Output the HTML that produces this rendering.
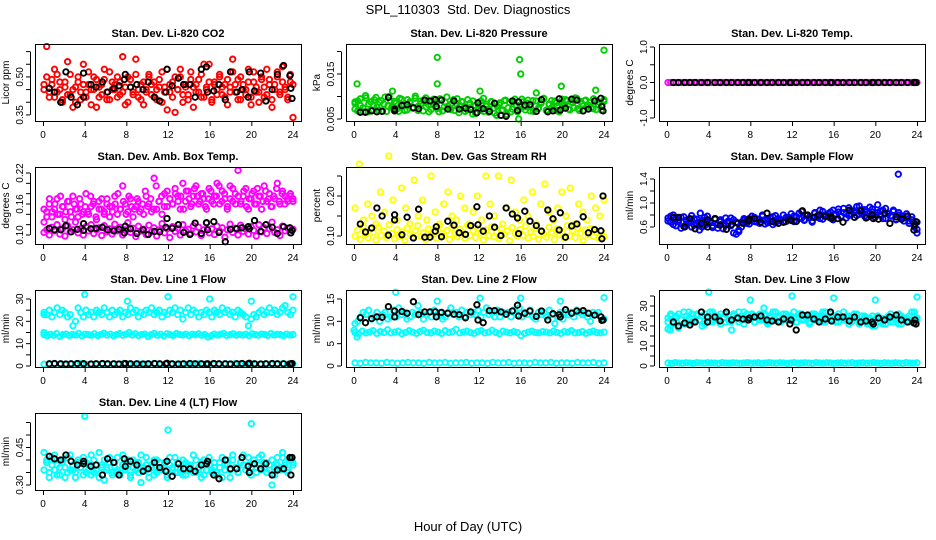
<!DOCTYPE html>
<html><head><meta charset="utf-8"><style>
html,body{margin:0;padding:0;background:#fff;}
svg{display:block;font-family:"Liberation Sans",Arial,sans-serif;}
</style></head><body>
<svg id="chart" width="936" height="540" viewBox="0 0 936 540" xmlns="http://www.w3.org/2000/svg">
<text x="468" y="14" text-anchor="middle" font-size="13">SPL_110303&#160; Std. Dev. Diagnostics</text>
<text x="468" y="531" text-anchor="middle" font-size="13">Hour of Day (UTC)</text>
</svg>
<script>
const BLACK_HOURS=[0.6,1.1,1.7,2.2,2.7,3.3,3.9,3.9,4.6,5.1,5.7,6.2,6.8,7.3,7.8,7.9,8.4,9.0,9.6,10.1,10.7,11.2,11.8,11.9,12.4,13.0,13.5,14.1,14.6,15.2,15.7,15.8,16.4,16.9,17.5,18.0,18.6,19.1,19.7,19.8,20.3,20.9,21.4,22.0,22.5,23.1,23.7,23.8,23.9];
const X_TICKS=[0,4,8,12,16,20,24];

const co2RedA=[0.47,0.62,0.44,0.49,0.42,0.51,0.45,0.40,0.48,0.56,0.43,0.38,0.46,0.50,0.41,0.47,0.44,0.52,0.39,0.45,0.49,0.42,0.47,0.53,0.44,0.41,0.48,0.45,0.50,0.43,0.58,0.46,0.40,0.49,0.44,0.51,0.42,0.47,0.39,0.45,0.50,0.43,0.48,0.41,0.46,0.52,0.44,0.37,0.47,0.42,0.50,0.45,0.53,0.40,0.46,0.43,0.49,0.38,0.47,0.44,0.51,0.42,0.46,0.55,0.41,0.48,0.45,0.50,0.43,0.47,0.39,0.46,0.52,0.44,0.49,0.41,0.47,0.45,0.53,0.42,0.48,0.44,0.40,0.50,0.46,0.43,0.49,0.41,0.47,0.52,0.44,0.54,0.45,0.42,0.48,0.34];
const co2RedB=[0.45,0.50,0.42,0.47,0.53,0.44,0.48,0.41,0.46,0.43,0.51,0.45,0.40,0.48,0.44,0.55,0.42,0.47,0.45,0.50,0.38,0.46,0.43,0.49,0.41,0.52,0.45,0.47,0.42,0.48,0.44,0.39,0.50,0.46,0.43,0.57,0.45,0.41,0.48,0.44,0.51,0.47,0.42,0.45,0.49,0.40,0.46,0.53,0.44,0.48,0.36,0.45,0.50,0.43,0.47,0.41,0.52,0.46,0.44,0.49,0.42,0.55,0.45,0.48,0.40,0.47,0.43,0.51,0.46,0.42,0.49,0.44,0.57,0.47,0.41,0.50,0.45,0.43,0.48,0.39,0.52,0.46,0.44,0.49,0.42,0.53,0.47,0.38,0.45,0.50,0.43,0.48,0.46,0.41,0.51,0.47];
const co2Black=[0.455,0.44,0.40,0.52,0.42,0.39,0.42,0.515,0.47,0.46,0.48,0.44,0.455,0.465,0.49,0.51,0.46,0.47,0.45,0.48,0.42,0.405,0.44,0.53,0.465,0.495,0.47,0.47,0.42,0.53,0.54,0.44,0.445,0.47,0.41,0.52,0.44,0.45,0.42,0.52,0.445,0.515,0.405,0.45,0.51,0.545,0.505,0.455,0.415];

const presGreenA=[0.0085,0.0068,0.0095,0.0075,0.0102,0.0066,0.0088,0.0079,0.0098,0.0070,0.0091,0.0083,0.0067,0.0100,0.0076,0.0089,0.0072,0.0096,0.0081,0.0069,0.0093,0.0086,0.0074,0.0101,0.0078,0.0090,0.0068,0.0097,0.0082,0.0071,0.0094,0.0087,0.0066,0.0092,0.0077,0.0099,0.0073,0.0085,0.0069,0.0095,0.0080,0.0088,0.0067,0.0093,0.0075,0.0090,0.0062,0.0084,0.0071,0.0096,0.0078,0.0065,0.0089,0.0074,0.0058,0.0082,0.0069,0.0091,0.0060,0.0086,0.0072,0.0094,0.0066,0.0080,0.0088,0.0070,0.0092,0.0077,0.0067,0.0090,0.0074,0.0085,0.0096,0.0069,0.0083,0.0091,0.0072,0.0087,0.0066,0.0094,0.0079,0.0090,0.0070,0.0086,0.0097,0.0073,0.0089,0.0068,0.0092,0.0081,0.0075,0.0095,0.0071,0.0088,0.0078,0.0093];
const presGreenB=[0.0072,0.0090,0.0080,0.0066,0.0097,0.0083,0.0070,0.0093,0.0076,0.0087,0.0068,0.0099,0.0079,0.0091,0.0073,0.0085,0.0067,0.0094,0.0081,0.0070,0.0088,0.0075,0.0096,0.0069,0.0084,0.0092,0.0077,0.0066,0.0090,0.0082,0.0073,0.0095,0.0068,0.0087,0.0079,0.0071,0.0093,0.0084,0.0064,0.0089,0.0076,0.0070,0.0085,0.0061,0.0080,0.0074,0.0090,0.0067,0.0083,0.0072,0.0088,0.0063,0.0078,0.0086,0.0070,0.0092,0.0075,0.0066,0.0089,0.0081,0.0072,0.0094,0.0077,0.0085,0.0068,0.0091,0.0079,0.0073,0.0087,0.0095,0.0070,0.0083,0.0076,0.0090,0.0068,0.0086,0.0080,0.0093,0.0072,0.0088,0.0075,0.0096,0.0069,0.0084,0.0091,0.0077,0.0087,0.0073,0.0092,0.0082,0.0070,0.0089];
const presExtraHours=[0.1,0.3,3.7,8.0,8.0,12.1,15.8,15.9,16.0,17.5,19.9,23.2,24.0];
const presExtraValues=[0.0088,0.0128,0.0112,0.0187,0.0128,0.0112,0.0050,0.0182,0.0150,0.0108,0.0123,0.0114,0.0203];
const presBlack=[0.0065,0.0065,0.0068,0.0066,0.0067,0.0098,0.0072,0.0068,0.0080,0.0082,0.0075,0.0073,0.0092,0.0090,0.0093,0.0078,0.0092,0.0072,0.0090,0.0072,0.0074,0.0071,0.0064,0.0086,0.0073,0.0067,0.0085,0.0058,0.0056,0.0090,0.0069,0.0088,0.0081,0.0082,0.0067,0.0093,0.0066,0.0068,0.0095,0.0070,0.0074,0.0094,0.0092,0.0068,0.0072,0.0090,0.0096,0.0078,0.0068];

const tempMagenta=[0,0,0,0,0,0,0,0,0,0,0,0,0,0,0,0,0,0,0,0,0,0,0,0,0,0,0,0,0,0,0,0,0,0,0,0,0,0,0,0,0,0,0,0,0,0,0,0,0,0,0,0,0,0,0,0,0,0,0,0,0,0,0,0,0,0,0,0,0,0,0,0,0,0,0,0,0,0,0,0,0,0,0,0,0,0,0,0,0,0,0,0,0,0,0,0];
const tempBlack=[0,0,0,0,0,0,0,0,0,0,0,0,0,0,0,0,0,0,0,0,0,0,0,0,0,0,0,0,0,0,0,0,0,0,0,0,0,0,0,0,0,0,0,0,0,0,0,0,0];

const ambUpperA=[0.125,0.145,0.160,0.135,0.150,0.170,0.140,0.155,0.130,0.165,0.145,0.175,0.150,0.135,0.160,0.145,0.180,0.140,0.155,0.165,0.130,0.150,0.170,0.145,0.160,0.135,0.155,0.175,0.140,0.150,0.195,0.160,0.145,0.170,0.135,0.155,0.165,0.150,0.140,0.175,0.160,0.145,0.210,0.150,0.165,0.140,0.180,0.155,0.170,0.160,0.190,0.175,0.150,0.200,0.165,0.185,0.155,0.175,0.195,0.160,0.180,0.170,0.150,0.190,0.165,0.175,0.200,0.160,0.185,0.170,0.155,0.195,0.165,0.180,0.225,0.160,0.175,0.190,0.150,0.170,0.185,0.160,0.175,0.150,0.195,0.165,0.180,0.155,0.170,0.200,0.160,0.185,0.175,0.165,0.180,0.170];
const ambUpperB=[0.150,0.135,0.170,0.145,0.160,0.140,0.175,0.155,0.145,0.165,0.135,0.160,0.150,0.170,0.140,0.155,0.145,0.175,0.160,0.135,0.165,0.150,0.140,0.170,0.155,0.145,0.160,0.180,0.150,0.165,0.140,0.175,0.155,0.150,0.170,0.145,0.160,0.185,0.155,0.170,0.150,0.195,0.165,0.175,0.155,0.185,0.170,0.160,0.180,0.165,0.175,0.150,0.185,0.170,0.160,0.190,0.175,0.165,0.180,0.155,0.170,0.185,0.160,0.175,0.195,0.165,0.180,0.150,0.170,0.190,0.160,0.175,0.165,0.185,0.155,0.170,0.180,0.160,0.190,0.175,0.165,0.185,0.170,0.155,0.175,0.190,0.165,0.180,0.160,0.170,0.175,0.165];
const ambLower=[0.105,0.110,0.100,0.115,0.108,0.120,0.102,0.112,0.098,0.118,0.106,0.110,0.125,0.104,0.112,0.100,0.116,0.108,0.120,0.103,0.110,0.114,0.099,0.118,0.106,0.112,0.102,0.121,0.108,0.115,0.100,0.110,0.124,0.105,0.113,0.097,0.117,0.108,0.111,0.101,0.119,0.106,0.114,0.098,0.110,0.122,0.104,0.112,0.095,0.116,0.107,0.113,0.100,0.120,0.108,0.111,0.103,0.118,0.106,0.115,0.099,0.110,0.123,0.104,0.112,0.101,0.117,0.108,0.114,0.096,0.110,0.121,0.105,0.113,0.100,0.119,0.107,0.111,0.102,0.116,0.109,0.098,0.120,0.106,0.114,0.103,0.112,0.125,0.105,0.110,0.099,0.117,0.108,0.113,0.104,0.111];
const ambBlack=[0.113,0.110,0.110,0.118,0.106,0.111,0.109,0.122,0.112,0.113,0.115,0.110,0.108,0.111,0.104,0.117,0.112,0.103,0.110,0.101,0.107,0.106,0.115,0.132,0.113,0.120,0.105,0.101,0.123,0.103,0.124,0.110,0.126,0.105,0.087,0.111,0.112,0.114,0.116,0.112,0.128,0.107,0.120,0.115,0.103,0.116,0.114,0.104,0.109];

const rhLow=[0.100,0.115,0.092,0.125,0.105,0.095,0.118,0.108,0.090,0.122,0.102,0.112,0.096,0.128,0.106,0.093,0.116,0.100,0.110,0.089,0.120,0.104,0.097,0.113,0.126,0.099,0.108,0.091,0.118,0.103,0.111,0.095,0.124,0.106,0.100,0.114,0.092,0.121,0.105,0.098,0.117,0.109,0.094,0.127,0.102,0.112,0.096,0.119,0.107,0.090,0.115,0.101,0.123,0.098,0.110,0.093,0.118,0.104,0.113,0.088,0.121,0.106,0.099,0.116,0.102,0.125,0.095,0.110,0.100,0.119,0.092,0.114,0.105,0.097,0.122,0.108,0.091,0.117,0.103,0.111,0.094,0.126,0.100,0.113,0.096,0.120,0.107,0.089,0.115,0.102,0.118,0.099,0.110,0.095,0.112,0.098];
const rhHigh=[0.17,0.28,0.14,0.18,0.15,0.13,0.21,0.16,0.30,0.19,0.14,0.22,0.17,0.13,0.24,0.15,0.19,0.14,0.25,0.16,0.13,0.18,0.21,0.15,0.14,0.20,0.17,0.13,0.16,0.20,0.14,0.25,0.18,0.15,0.25,0.13,0.17,0.24,0.16,0.14,0.19,0.15,0.21,0.13,0.18,0.23,0.16,0.14,0.17,0.21,0.15,0.22,0.13,0.18,0.16,0.14,0.20,0.17,0.15,0.19];
const rhBlack=[0.130,0.110,0.120,0.170,0.150,0.102,0.140,0.153,0.103,0.147,0.095,0.167,0.097,0.097,0.112,0.123,0.098,0.137,0.127,0.108,0.104,0.126,0.173,0.128,0.112,0.150,0.122,0.101,0.170,0.155,0.145,0.106,0.162,0.137,0.126,0.112,0.165,0.143,0.115,0.158,0.097,0.125,0.130,0.148,0.108,0.116,0.113,0.093,0.200];

const flowBlueA=[0.75,0.68,0.80,0.62,0.72,0.58,0.77,0.65,0.70,0.60,0.74,0.66,0.55,0.71,0.63,0.78,0.67,0.59,0.73,0.64,0.69,0.57,0.75,0.66,0.62,0.72,0.68,0.52,0.60,0.74,0.70,0.65,0.78,0.69,0.73,0.66,0.80,0.71,0.67,0.75,0.64,0.79,0.70,0.72,0.68,0.76,0.73,0.82,0.69,0.77,0.74,0.86,0.71,0.79,0.75,0.68,0.83,0.76,0.88,0.73,0.80,0.77,0.85,0.72,0.82,0.90,0.78,0.84,0.75,0.92,0.81,0.87,0.79,0.95,0.83,0.89,0.76,0.93,0.85,0.80,0.97,0.86,0.74,0.91,0.82,0.78,0.88,0.72,0.84,0.79,0.75,0.82,0.70,0.77,0.63,0.68];
const flowBlueB=[0.70,0.78,0.64,0.74,0.69,0.76,0.61,0.71,0.67,0.79,0.63,0.73,0.68,0.60,0.76,0.65,0.70,0.62,0.74,0.58,0.72,0.66,0.63,0.70,0.75,0.50,0.48,0.55,0.68,0.71,0.66,0.74,0.70,0.76,0.68,0.72,0.78,0.65,0.73,0.70,0.77,0.67,0.74,0.71,0.80,0.69,0.76,0.72,0.78,0.70,0.83,0.75,0.72,0.80,0.77,0.70,0.84,0.79,0.74,0.86,0.78,0.82,0.75,0.88,0.80,0.85,0.77,0.91,0.82,0.79,0.87,0.84,0.94,0.81,0.89,0.78,0.86,0.83,0.90,0.76,0.84,0.80,0.88,0.74,0.82,0.79,0.86,0.73,0.80,0.76,0.70,0.78,0.66,0.72,0.60,0.56];
const flowExtraHours=[3.2,22.2,24.0];
const flowExtraValues=[0.83,1.48,0.50];
const flowBlack=[0.76,0.76,0.60,0.74,0.57,0.66,0.60,0.72,0.74,0.63,0.56,0.64,0.66,0.66,0.70,0.73,0.74,0.68,0.83,0.69,0.66,0.68,0.72,0.71,0.69,0.87,0.80,0.76,0.80,0.78,0.77,0.74,0.74,0.68,0.88,0.76,0.87,0.75,0.80,0.74,0.73,0.83,0.66,0.77,0.73,0.78,0.55,0.65,0.69];

const l1Upper=[24,23,25,22,24,26,23,25,24,22,23,18,20,26,24,22,25,23,24,22,25,24,23,26,24,22,25,23,24,25,22,24,23,26,24,25,22,24,23,25,24,26,23,24,25,22,24,23,25,24,26,23,25,21,24,26,23,25,24,22,24,23,25,24,22,25,24,23,26,24,25,23,24,22,25,24,23,22,18,21,23,22,24,25,23,24,26,24,25,23,24,26,27,24,23,25];
const l1Mid=[14,13.5,14.2,13.8,14.5,13.2,14,14.3,13.7,14.1,13.9,14.6,13.5,14.2,14,13.8,14.4,13.6,14.1,14.7,13.9,14.3,13.5,14,14.5,13.8,14.2,15,13.9,14.4,13.6,14.1,14.3,13.2,14,14.6,13.8,14.2,13.5,14.4,14,13.7,14.5,14.1,13.9,14.3,13.6,14.2,14,14.4,13.8,14.1,13,13.5,14.3,13.9,14.2,14.6,13.7,14,14.4,13.8,14.1,13.9,14.2,13.6,14.4,14.0,13.8,14.3,14.1,13.7,14.5,13.9,14.2,14.0,13.6,14.3,13.9,14.1];
const l1Low=[0.8,0.7,0.9,0.8,0.6,0.9,0.8,1.0,0.7,0.8,0.9,0.8,0.7,0.9,0.8,1.1,0.8,0.7,0.9,0.8,0.8,1.0,0.7,0.9,0.8,0.8,0.9,0.7,0.8,1.0,0.8,0.9,0.7,0.8,0.9,0.8,1.0,0.8,0.7,0.9,0.8,0.8,0.9,0.7,0.8,1.0,0.8,0.9];
const l1ExtraHours=[0.1,0.1,4.0,8.1,12.0,16.0,20.0,24.0];
const l1ExtraValues=[15,23,32,29,31,30,29,31];
const l1Black=[1.0,1.1,1.0,0.9,1.0,1.1,1.0,1.0,0.9,1.0,1.1,1.0,1.0,0.9,1.0,1.1,1.0,1.0,0.9,1.0,1.1,1.0,1.0,1.2,1.0,0.9,1.0,1.1,1.0,1.0,0.9,1.0,1.1,1.0,1.0,0.9,1.0,1.1,1.0,1.2,1.0,0.9,1.0,1.1,1.0,1.0,0.9,1.0,1.1];

const l2Upper=[9.5,10,11,12,11.5,12.5,10.5,11,12,10,11.5,12,10.5,11,12.5,11,13,11.5,12,10.5,11,12,11.5,13.5,12,10.5,11.5,12,11,12.5,11.5,12,10.5,11,12,13,11.5,12,11,12.5,11,12,11.5,12,11.5,12.5,11,12,13,11.5,12,11,12.5,11,12,11.5,12,11,12.5,11.5,13,11,12,11.5,12.5,11,10.5,12,11.5,12,11,12.5,11.5,9.5,11,12,10.5,12,11.5,12,11,12.5,12,11.5,12,11,10,12,11.5,12,11,10.5];
const l2Mid=[7.5,7.2,7.8,7.4,7.6,7.9,7.3,7.7,7.5,8.1,7.4,7.6,7.8,7.2,7.5,7.9,7.6,7.3,7.7,8.0,7.5,7.4,7.8,7.6,7.3,7.9,7.5,7.7,8.2,7.4,7.6,7.8,7.5,7.3,7.7,7.9,7.4,7.6,8.0,7.5,7.2,7.8,7.6,7.4,7.7,7.5,6.8,7.3,7.6,7.8,7.5,7.4,7.7,7.6,7.4,7.8,7.5,7.3,7.7,7.6,7.9,7.4,7.5,7.7,7.3,7.6,7.8,7.5,7.4,7.6];
const l2Low=[0.7,0.6,0.8,0.7,0.7,0.6,0.8,0.7,0.6,0.7,0.8,0.7,0.7,0.6,0.8,0.7,0.7,0.8,0.6,0.7,0.7,0.8,0.6,0.7,0.7,0.6,0.8,0.7,0.7,0.8,0.6,0.7,0.7,0.6,0.8,0.7,0.7,0.8,0.6,0.7,0.7,0.6,0.8,0.7,0.7,0.8,0.6,0.7];
const l2ExtraHours=[0.0,0.3,4.0,8.0,12.1,16.0,19.8,24.0];
const l2ExtraValues=[8,6.5,16.5,14.5,15.2,15.2,14.5,15.3];
const l2Black=[10.8,9.7,10.6,11.0,10.9,13.3,12.3,11.0,12.2,11.8,14.4,11.5,12.1,12.1,12.1,11.0,12.0,11.8,11.6,11.5,10.8,12.1,13.7,10.3,9.7,12.4,12.4,12.1,11.6,12.3,13.6,11.2,11.8,12.3,11.1,12.3,10.3,11.7,11.5,11.0,12.6,11.8,12.3,12.4,11.8,11.4,11.0,10.2,10.3];

const l3UpperA=[24,26,22,25,19,23,27,21,24,26,22,25,23,20,26,24,22,27,23,25,21,24,26,23,22,25,24,27,23,21,26,24,25,22,24,26,23,25,21,24,27,23,25,22,24,26,23,25,24,22,26,23,25,24,21,26,23,25,24,22,27,24,23,25,22,26,24,23,25,21,24,26,23,22,25,24,21,23,25,20,22,24,23,21,25,22,24,23,26,21,24,22,25,23,27,24];
const l3UpperB=[22,25,21,24,26,23,21,25,27,22,24,26,23,25,21,24,27,22,25,23,26,24,22,25,23,26,24,22,25,27,23,24,26,22,25,23,24,26,22,25,23,27,24,22,26,23,25,24,27,22,24,26,23,25,22,24,26,23,25,27,22,24,26,23,25,22,24,27,23,25,22,24,26,21,23,25,22,24,20,23,25,22,21,24,23,26,22,24,21,25,23,24,22,27,25,23];
const l3Low=[1.5,1.3,1.7,1.5,1.4,1.6,1.5,1.3,1.7,1.5,1.4,1.6,1.5,1.5,1.3,1.7,1.5,1.4,1.6,1.5,1.3,1.5,1.7,1.4,1.5,1.6,1.3,1.5,1.7,1.5,1.4,1.6,1.5,1.3,1.5,1.7,1.4,1.5,1.6,1.5,1.3,1.7,1.5,1.4,1.6,1.5,1.3,1.5,1.6,1.4,1.5,1.7,1.3,1.5,1.6,1.4,1.5,1.7,1.5,1.3,1.6,1.5,1.4,1.6,1.5,1.3,1.7,1.5,1.4,1.6];
const l3ExtraHours=[0.1,0.3,4.0,6.2,8.0,9.3,12.0,16.0,20.0,24.0];
const l3ExtraValues=[18.5,18,37,18,33,29,35,34,33,34.5];
const l3Black=[22,20,21.5,20.5,22,27,24.5,22,24.5,22.5,27,23,24,23.5,23,24,24.5,25,23,22.5,22,23.5,21,23,18,25.5,25.5,23.5,22,23.5,27,22.5,24.5,24.5,22.5,24.5,22,22.5,22,21,24,23,24.5,25.5,23,22,21.5,23,21];

const l4A=[0.43,0.39,0.33,0.41,0.36,0.38,0.34,0.40,0.37,0.35,0.42,0.36,0.33,0.39,0.37,0.41,0.35,0.38,0.34,0.40,0.36,0.43,0.38,0.32,0.37,0.41,0.35,0.39,0.36,0.34,0.42,0.37,0.38,0.33,0.40,0.36,0.39,0.31,0.37,0.41,0.35,0.38,0.34,0.40,0.36,0.37,0.39,0.33,0.38,0.36,0.41,0.35,0.37,0.34,0.39,0.36,0.38,0.42,0.35,0.37,0.33,0.40,0.36,0.38,0.35,0.39,0.34,0.37,0.41,0.36,0.38,0.33,0.40,0.37,0.35,0.39,0.42,0.36,0.38,0.34,0.40,0.37,0.41,0.36,0.39,0.35,0.38,0.30,0.37,0.41,0.36,0.43,0.38,0.35,0.40,0.39];
const l4B=[0.36,0.40,0.35,0.38,0.42,0.34,0.37,0.39,0.33,0.41,0.36,0.38,0.35,0.40,0.37,0.34,0.39,0.36,0.42,0.35,0.38,0.33,0.37,0.40,0.36,0.39,0.34,0.37,0.41,0.35,0.38,0.36,0.40,0.34,0.37,0.39,0.35,0.42,0.36,0.38,0.33,0.37,0.40,0.35,0.39,0.36,0.38,0.34,0.41,0.37,0.35,0.39,0.36,0.40,0.34,0.38,0.37,0.35,0.40,0.36,0.39,0.34,0.38,0.41,0.36,0.37,0.35,0.39,0.33,0.38,0.40,0.36,0.42,0.37,0.35,0.39,0.38,0.36,0.41,0.37,0.40,0.35,0.38,0.42,0.37,0.39,0.36,0.40,0.34,0.38,0.37,0.41,0.39,0.36,0.40,0.38];
const l4ExtraHours=[4.0,12.0,20.0];
const l4ExtraValues=[0.575,0.52,0.545];
const l4Black=[0.415,0.405,0.400,0.420,0.395,0.380,0.395,0.385,0.375,0.380,0.340,0.405,0.390,0.340,0.405,0.375,0.395,0.380,0.355,0.365,0.390,0.370,0.355,0.395,0.335,0.385,0.365,0.365,0.355,0.380,0.385,0.395,0.340,0.325,0.400,0.365,0.365,0.410,0.375,0.350,0.385,0.365,0.385,0.340,0.360,0.365,0.410,0.340,0.410];

const co2Ticks=[0.35,0.40,0.45,0.50,0.55,0.60], co2Labels=["0.35","","","0.50","",""];
const presTicks=[0.005,0.010,0.015,0.020], presLabels=["0.005","","0.015",""];
const tempTicks=[-1,-0.5,0,0.5,1], tempLabels=["-1.0","","0.0","","1.0"];
const ambTicks=[0.10,0.12,0.14,0.16,0.18,0.20,0.22], ambLabels=["0.10","","","0.16","","","0.22"];
const rhTicks=[0.10,0.15,0.20,0.25], rhLabels=["0.10","","0.20",""];
const flowTicks=[0.6,0.8,1.0,1.2,1.4], flowLabels=["0.6","","1.0","","1.4"];
const l1Ticks=[0,5,10,15,20,25,30], l1Labels=["0","","10","","20","","30"];
const l2Ticks=[0,5,10,15], l2Labels=["0","5","10","15"];
const l3Ticks=[0,5,10,15,20,25,30,35], l3Labels=["0","","10","","20","","30",""];
const l4Ticks=[0.30,0.35,0.40,0.45,0.50,0.55], l4Labels=["0.30","","","0.45","",""];

const panels=[
 {name:"co2",title:"Stan. Dev. Li-820 CO2",ylab:"Licor ppm",col:0,row:0,dom:[0.326,0.630],ticks:co2Ticks,labels:co2Labels,
  series:[[co2RedA,"#ff0000"],[co2RedB,"#ff0000"]],extra:null,black:co2Black},
 {name:"pressure",title:"Stan. Dev. Li-820 Pressure",ylab:"kPa",col:1,row:0,dom:[0.00456,0.02167],ticks:presTicks,labels:presLabels,
  series:[[presGreenA,"#00cd00"],[presGreenB,"#00cd00"]],extra:[presExtraHours,presExtraValues,"#00cd00"],black:presBlack},
 {name:"temp",title:"Stan. Dev. Li-820 Temp.",ylab:"degrees C",col:2,row:0,dom:[-1.085,1.085],ticks:tempTicks,labels:tempLabels,
  series:[[tempMagenta,"#ff00ff"]],extra:null,black:tempBlack},
 {name:"amb-box-temp",title:"Stan. Dev. Amb. Box Temp.",ylab:"degrees C",col:0,row:1,dom:[0.0826,0.2316],ticks:ambTicks,labels:ambLabels,
  series:[[ambUpperA,"#ff00ff"],[ambUpperB,"#ff00ff"],[ambLower,"#ff00ff"]],extra:null,black:ambBlack},
 {name:"gas-rh",title:"Stan. Dev. Gas Stream RH",ylab:"percent",col:1,row:1,dom:[0.08,0.2725],ticks:rhTicks,labels:rhLabels,
  series:[[rhLow,"#ffff00"],[rhHigh,"#ffff00"]],extra:null,black:rhBlack},
 {name:"sample-flow",title:"Stan. Dev. Sample Flow",ylab:"ml/min",col:2,row:1,dom:[0.317,1.6],ticks:flowTicks,labels:flowLabels,
  series:[[flowBlueA,"#0000ff"],[flowBlueB,"#0000ff"]],extra:[flowExtraHours,flowExtraValues,"#0000ff"],black:flowBlack},
 {name:"line1-flow",title:"Stan. Dev. Line 1 Flow",ylab:"ml/min",col:0,row:2,dom:[-0.45,34.03],ticks:l1Ticks,labels:l1Labels,
  series:[[l1Upper,"#00ffff"],[l1Mid,"#00ffff"],[l1Low,"#00ffff"]],extra:[l1ExtraHours,l1ExtraValues,"#00ffff"],black:l1Black},
 {name:"line2-flow",title:"Stan. Dev. Line 2 Flow",ylab:"ml/min",col:1,row:2,dom:[-0.22,17.01],ticks:l2Ticks,labels:l2Labels,
  series:[[l2Upper,"#00ffff"],[l2Mid,"#00ffff"],[l2Low,"#00ffff"]],extra:[l2ExtraHours,l2ExtraValues,"#00ffff"],black:l2Black},
 {name:"line3-flow",title:"Stan. Dev. Line 3 Flow",ylab:"ml/min",col:2,row:2,dom:[-0.5,38],ticks:l3Ticks,labels:l3Labels,
  series:[[l3UpperA,"#00ffff"],[l3UpperB,"#00ffff"],[l3Low,"#00ffff"]],extra:[l3ExtraHours,l3ExtraValues,"#00ffff"],black:l3Black},
 {name:"line4-flow",title:"Stan. Dev. Line 4 (LT) Flow",ylab:"ml/min",col:0,row:3,dom:[0.28,0.588],ticks:l4Ticks,labels:l4Labels,
  series:[[l4A,"#00ffff"],[l4B,"#00ffff"]],extra:[l4ExtraHours,l4ExtraValues,"#00ffff"],black:l4Black}
];

const NS="http://www.w3.org/2000/svg";
const svg=document.getElementById('chart');
const COL_LEFT=[35,346,659], ROW_TOP=[44,167,290,413], W=266, H=77;
function mk(tag,attrs,parent){const e=document.createElementNS(NS,tag);for(const k in attrs)e.setAttribute(k,attrs[k]);parent.appendChild(e);return e;}

panels.forEach(p=>{
  const L=COL_LEFT[p.col], T=ROW_TOP[p.row];
  const xs=h=>L+8+h*(250/24);
  const ys=v=>T+H-(v-p.dom[0])/(p.dom[1]-p.dom[0])*H;
  const g=mk('g',{},svg);
  
  
  const pts=mk('g',{fill:'none','stroke-width':'1.9'},g);
  
  
  function dot(h,v,c,nm){
    const el=mk('circle',{cx:xs(h).toFixed(1),cy:ys(v).toFixed(1),r:'2.7',stroke:c},pts);
    
    
  }
  p.series.forEach(([vals,c])=>{
    const n=vals.length;
    vals.forEach((v,i)=>dot(0.1+i*23.9/(n-1),v,c,p.name+'-point'));
  });
  if(p.extra){p.extra[0].forEach((h,i)=>dot(h,p.extra[1][i],p.extra[2],p.name+'-outlier'));}
  const nb=Math.min(BLACK_HOURS.length,p.black.length);
  for(let i=0;i<nb;i++)dot(BLACK_HOURS[i],p.black[i],'#000',p.name+'-hourly-point');
  const box=mk('rect',{x:L+0.5,y:T+0.5,width:W,height:H,fill:'none',stroke:'#000','stroke-width':'1'},g);
  
  
  const tt=mk('text',{x:L+W/2,y:T-7,'text-anchor':'middle','font-size':'11','font-weight':'bold'},g);
  tt.textContent=p.title;
  
  
  const xa=mk('g',{},g);
  
  
  mk('line',{x1:xs(0),x2:xs(24),y1:T+H+0.5,y2:T+H+0.5,stroke:'#000'},xa);
  X_TICKS.forEach(h=>{
    mk('line',{x1:xs(h)+0.5,x2:xs(h)+0.5,y1:T+H,y2:T+H+5,stroke:'#000'},xa);
    const t=mk('text',{x:xs(h),y:T+H+17,'text-anchor':'middle','font-size':'10'},xa);
    t.textContent=String(h);
    
    
  });
  const ya=mk('g',{},g);
  
  
  mk('line',{x1:L+0.5-5,x2:L+0.5-5,y1:ys(p.ticks[0]),y2:ys(p.ticks[p.ticks.length-1]),stroke:'#000'},ya);
  p.ticks.forEach((v,i)=>{
    const y=ys(v);
    mk('line',{x1:L-5,x2:L-9,y1:y,y2:y,stroke:'#000'},ya);
    if(p.labels[i]){
      const t=mk('text',{x:L-12,y:y,'text-anchor':'middle','font-size':'10',transform:`rotate(-90 ${L-12} ${y})`},ya);
      t.textContent=p.labels[i];
      
      
    }
  });
  const yl=mk('text',{x:L-26,y:T+H/2,'text-anchor':'middle','font-size':'10',transform:`rotate(-90 ${L-26} ${T+H/2})`},ya);
  yl.textContent=p.ylab;
  
  
});
</script>
</body></html>
